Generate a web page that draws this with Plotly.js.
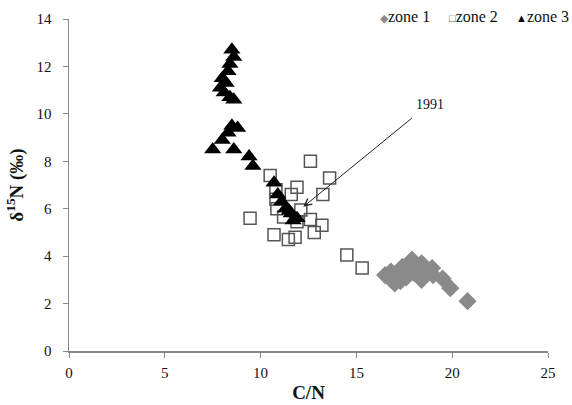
<!DOCTYPE html>
<html><head><meta charset="utf-8">
<script src="https://cdn.plot.ly/plotly-3.0.1.min.js"></script>
<style>html,body{margin:0;padding:0;background:#fff}#c{width:572px;height:405px}</style>
</head><body><div id="c"></div>
<script>
var zone1X = [16.5, 16.8, 17.0, 17.2, 17.3, 17.4, 17.6, 17.7, 17.9, 18.0, 18.2, 18.4, 18.4, 18.6, 18.95, 19.0, 19.5, 19.9, 20.8];
var zone1Y = [3.2, 3.35, 2.85, 3.3, 2.95, 3.55, 3.1, 3.6, 3.85, 3.3, 3.5, 3.7, 3.0, 3.3, 3.5, 3.2, 3.05, 2.65, 2.1];
var zone2X = [9.45, 10.5, 10.7, 10.8, 10.8, 10.85, 11.2, 11.45, 11.6, 11.8, 11.9, 11.9, 12.1, 12.6, 12.6, 12.8, 13.2, 13.25, 13.6, 14.5, 15.3];
var zone2Y = [5.6, 7.4, 4.9, 6.8, 6.4, 6.0, 5.65, 4.7, 6.6, 4.8, 6.9, 5.45, 5.95, 8.0, 5.55, 5.0, 5.3, 6.6, 7.3, 4.05, 3.5];
var zone3X = [8.5, 8.6, 8.4, 8.3, 8.0, 8.2, 7.9, 8.1, 8.4, 8.6, 8.5, 8.8, 8.3, 8.0, 7.5, 8.6, 9.4, 9.6, 10.7, 10.9, 11.1, 11.3, 11.5, 11.6, 11.7, 11.9];
var zone3Y = [12.7, 12.4, 12.1, 11.8, 11.5, 11.3, 11.1, 10.9, 10.7, 10.6, 9.5, 9.4, 9.2, 8.9, 8.5, 8.5, 8.2, 7.8, 7.1, 6.6, 6.3, 6.0, 5.9, 5.8, 5.5, 5.6];
var xTicks = [0, 5, 10, 15, 20, 25];
var yTicks = [0, 2, 4, 6, 8, 10, 12, 14];
var seriesNames = ['zone 1', 'zone 2', 'zone 3'];
var legendSymbols = ['◆', '□', '▲'];
var seriesColors = ['#8a8a8a', '#555555', '#000000'];
var arrowLabel = '1991';
var arrowHead = [12.23, 6.08];
var arrowTail = [17.97, 9.87];

var serif = "'Liberation Serif', 'Times New Roman', serif";
var traces = [
  {x: zone1X, y: zone1Y, name: seriesNames[0], mode: 'markers', type: 'scatter',
   marker: {symbol: 'diamond', size: 14, color: seriesColors[0], line: {width: 0}}},
  {x: zone2X, y: zone2Y, name: seriesNames[1], mode: 'markers', type: 'scatter',
   marker: {symbol: 'square-open', size: 12, color: seriesColors[1], line: {width: 1.5}}},
  {x: zone3X, y: zone3Y, name: seriesNames[2], mode: 'markers', type: 'scatter',
   marker: {symbol: 'triangle-up', size: 15, color: seriesColors[2], line: {width: 0}}}
];
var legendRight = [0.758, 0.900, 1.048];
var legendAnns = seriesNames.map(function (n, i) {
  return {x: legendRight[i], y: 1.009, xref: 'paper', yref: 'paper', xanchor: 'right', yanchor: 'middle',
    showarrow: false, font: {family: serif, size: 16, color: '#111'},
    text: '<span style="color:' + seriesColors[i] + ';font-size:11px">' + legendSymbols[i] + '</span>' + n};
});
var axisCommon = {showgrid: false, zeroline: false, showline: true, linecolor: '#888', linewidth: 1.5,
  ticks: 'outside', ticklen: 5, tickcolor: '#888', tickfont: {family: serif, size: 15, color: '#111'}};
var layout = {
  width: 572, height: 405,
  margin: {l: 69, r: 24, t: 19, b: 54},
  paper_bgcolor: '#fff', plot_bgcolor: '#fff',
  font: {family: serif, color: '#111'},
  showlegend: false,
  xaxis: Object.assign({}, axisCommon, {range: [0, 25], tickvals: xTicks, ticklabelstandoff: 2,
    title: {text: '<b>C/N</b>', font: {family: serif, size: 19, color: '#111'}, standoff: 6}}),
  yaxis: Object.assign({}, axisCommon, {range: [0, 14], tickvals: yTicks, ticklabelstandoff: 8,
    title: {text: '<b>δ<sup>15</sup>N (‰)</b>', font: {family: serif, size: 19, color: '#111'}, standoff: 8}}),
  annotations: [
    {x: arrowHead[0], y: arrowHead[1], ax: arrowTail[0], ay: arrowTail[1], axref: 'x', ayref: 'y',
     xref: 'x', yref: 'y', text: '', showarrow: true, arrowhead: 5, arrowsize: 1.4, arrowwidth: 1, arrowcolor: '#222'},
    {x: arrowTail[0], y: arrowTail[1], xref: 'x', yref: 'y', text: arrowLabel, showarrow: false,
     xanchor: 'left', yanchor: 'bottom', xshift: 1, yshift: 3, font: {family: serif, size: 14, color: '#111'}}
  ].concat(legendAnns)
};
Plotly.newPlot('c', traces, layout, {displayModeBar: false, staticPlot: true});
</script></body></html>
